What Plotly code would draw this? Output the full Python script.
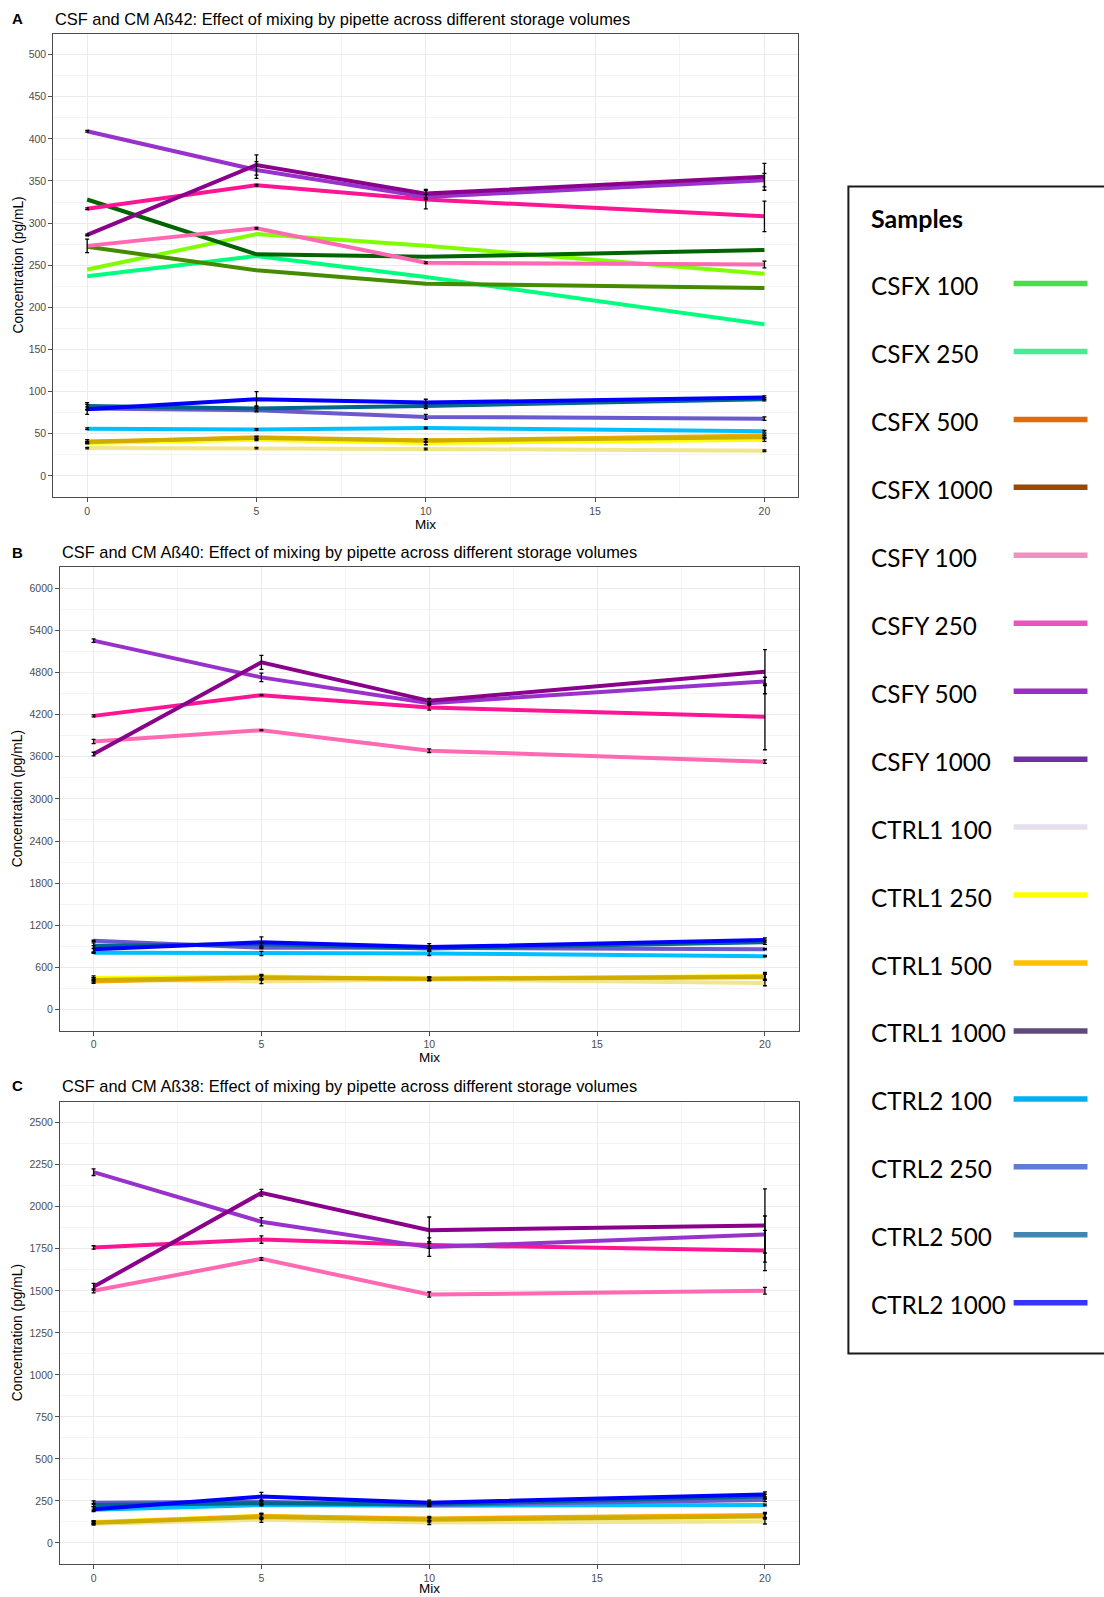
import plotly.graph_objects as go

# ---------------------------------------------------------------- data
MIX = [0, 5, 10, 20]

SAMPLES = [
    "CSFX 100", "CSFX 250", "CSFX 500", "CSFX 1000",
    "CSFY 100", "CSFY 250", "CSFY 500", "CSFY 1000",
    "CTRL1 100", "CTRL1 250", "CTRL1 500", "CTRL1 1000",
    "CTRL2 100", "CTRL2 250", "CTRL2 500", "CTRL2 1000",
]

# line colours used inside the panels
LINE_COLORS = [
    "#7FFF00", "#00FF7F", "#006400", "#458B00",
    "#FF69B4", "#FF1493", "#9932CC", "#8B008B",
    "#F0E68C", "#FFFF00", "#FFA500", "#CDAD00",
    "#00BFFF", "#6A5ACD", "#00688B", "#0000FF",
]

# swatch colours of the "Samples" key
KEY_COLORS = [
    "#47DF47", "#46EB96", "#E36C0A", "#984807",
    "#F28EC2", "#E955BE", "#9A30C2", "#7030A0",
    "#E6E0EC", "#FFFF00", "#FFC000", "#604A7B",
    "#00B0F0", "#5F7DD6", "#4186B2", "#3535FF",
]

# Aß42 (pg/mL): mean and SD per sample at mix 0, 5, 10, 20
AB42_MEAN = [
    [245, 287, 273, 240], [237, 261, 236, 180], [328, 263, 260, 268], [272, 244, 228, 223],
    [273, 294, 253, 251], [317, 345, 328, 308], [409, 363, 331, 351], [286, 369, 335, 355],
    [33, 33, 32, 30], [39, 43, 39, 43], [40, 46, 42, 48], [41, 45, 42, 46],
    [56, 55, 57, 53], [80, 78, 70, 68], [83, 80, 83, 91], [79, 91, 87, 93],
]
AB42_SD = [
    None, None, None, None,
    [8, 1, 1, 4], [1, 1, 11, 18], [1, 10, 3, 8], [1, 12, 5, 16],
    [1, 1, 1, 1], [1, 1, 2, 2], [1, 1, 2, 2], [2, 2, 2, 2],
    [1, 1, 1, 1], [2, 2, 3, 2], [4, 3, 3, 2], [6, 9, 4, 2],
]

# Aß40 (pg/mL)
AB40_MEAN = [
    None, None, None, None,
    [3817, 3978, 3685, 3529], [4181, 4476, 4299, 4167], [5252, 4729, 4362, 4671], [3638, 4943, 4395, 4810],
    [430, 400, 430, 380], [450, 470, 440, 480], [400, 450, 440, 470], [420, 460, 440, 460],
    [810, 800, 800, 760], [980, 880, 880, 860], [910, 930, 870, 960], [860, 960, 890, 990],
]
AB40_SD = [
    None, None, None, None,
    [30, 5, 25, 25], [15, 5, 35, 468], [25, 60, 20, 60], [25, 100, 35, 314],
    [25, 30, 20, 40], [30, 30, 20, 50], [25, 30, 25, 40], [30, 30, 25, 45],
    [10, 30, 30, 10], [10, 10, 20, 10], [40, 20, 40, 30], [50, 75, 50, 30],
]

# Aß38 (pg/mL)
AB38_MEAN = [
    None, None, None, None,
    [1500, 1690, 1478, 1500], [1758, 1805, 1772, 1740], [2206, 1911, 1760, 1835], [1524, 2083, 1861, 1889],
    [115, 138, 122, 128], [125, 161, 138, 162], [122, 161, 146, 167], [120, 154, 138, 158],
    [197, 226, 222, 226], [240, 246, 226, 256], [226, 236, 230, 276], [201, 276, 240, 289],
]
AB38_SD = [
    None, None, None, None,
    [12, 8, 15, 20], [10, 22, 20, 120], [20, 25, 55, 110], [20, 20, 78, 218],
    [8, 15, 12, 15], [8, 15, 12, 15], [8, 15, 12, 15], [8, 15, 12, 15],
    [5, 5, 5, 5], [10, 10, 8, 10], [10, 10, 10, 15], [15, 25, 15, 15],
]

PANELS = [
    # letter, title, means, sds, y range, y tick step,
    # pixel box (left, right, top, bottom), title y, "Mix" y
    ("A", "CSF and CM Aß42: Effect of mixing by pipette across different storage volumes",
     AB42_MEAN, AB42_SD, [-25, 525], 50, (53.3, 798.3, 33.5, 497.0), 18.7, 524.0),
    ("B", "CSF and CM Aß40: Effect of mixing by pipette across different storage volumes",
     AB40_MEAN, AB40_SD, [-300, 6300], 600, (60.0, 798.5, 567.0, 1030.7), 552.0, 1057.0),
    ("C", "CSF and CM Aß38: Effect of mixing by pipette across different storage volumes",
     AB38_MEAN, AB38_SD, [-125, 2625], 250, (60.0, 798.5, 1101.7, 1564.0), 1085.6, 1588.5),
]

# ---------------------------------------------------------------- layout helpers
W, H = 1104, 1597
FONT = "Liberation Sans, Arial, sans-serif"
KEY_FONT = "Lato, Open Sans, sans-serif"


def px_x(v):
    return v / W


def px_y(v):
    return 1 - v / H


fig = go.Figure()
annotations = []
shapes = []

for p, (letter, title, means, sds, yrange, ystep, box, title_y, mix_y) in enumerate(PANELS):
    left, right, top, bottom = box
    ax = "" if p == 0 else str(p + 1)
    xname, yname = "x" + ax, "y" + ax

    # lines
    for i, name in enumerate(SAMPLES):
        if means[i] is None:
            continue
        fig.add_trace(go.Scatter(
            x=MIX, y=means[i], mode="lines", name=name,
            line=dict(color=LINE_COLORS[i], width=4),
            xaxis=xname, yaxis=yname, showlegend=False, hoverinfo="skip",
        ))
    # error bars on top of all lines
    for i, name in enumerate(SAMPLES):
        if means[i] is None or sds[i] is None:
            continue
        fig.add_trace(go.Scatter(
            x=MIX, y=means[i], mode="markers", name=name,
            marker=dict(size=1, color="rgba(0,0,0,0)"),
            error_y=dict(type="data", array=sds[i], visible=True,
                         color="#000000", thickness=1.3, width=2),
            xaxis=xname, yaxis=yname, showlegend=False, hoverinfo="skip",
        ))

    common = dict(
        showline=True, linecolor="#4D4D4D", linewidth=1, mirror=True,
        showgrid=True, gridcolor="#EBEBEB", gridwidth=1.1, zeroline=False,
        ticks="outside", ticklen=4, tickcolor="#4D4D4D", tickwidth=1,
        tickfont=dict(family=FONT, size=10.5, color="#4D4D4D"),
        automargin=False,
    )
    fig.update_layout(**{
        "xaxis" + ax: dict(
            domain=[px_x(left), px_x(right)], range=[-1, 21],
            tickmode="array", tickvals=[0, 5, 10, 15, 20],
            minor=dict(showgrid=True, gridcolor="#F4F4F4", gridwidth=0.6,
                       tickmode="array", tickvals=[2.5, 7.5, 12.5, 17.5]),
            anchor=yname, **common),
        "yaxis" + ax: dict(
            domain=[px_y(bottom), px_y(top)], range=yrange,
            tick0=0, dtick=ystep,
            minor=dict(showgrid=True, gridcolor="#F4F4F4", gridwidth=0.6,
                       tick0=ystep / 2, dtick=ystep),
            anchor=xname, **common),
    })

    # panel letter and title
    annotations.append(dict(
        text="<b>%s</b>" % letter, xref="paper", yref="paper",
        x=px_x(17.3), y=px_y(title_y), xanchor="center", yanchor="middle",
        showarrow=False, font=dict(family=FONT, size=15, color="#000000")))
    annotations.append(dict(
        text=title, xref="paper", yref="paper",
        x=px_x(left), y=px_y(title_y), xanchor="left", yanchor="middle",
        showarrow=False, font=dict(family=FONT, size=16.4, color="#000000")))
    # axis titles
    annotations.append(dict(
        text="Mix", xref="paper", yref="paper",
        x=px_x((left + right) / 2), y=px_y(mix_y), xanchor="center", yanchor="middle",
        showarrow=False, font=dict(family=FONT, size=13.5, color="#000000")))
    annotations.append(dict(
        text="Concentration (pg/mL)", xref="paper", yref="paper", textangle=-90,
        x=px_x(18.3), y=px_y((top + bottom) / 2), xanchor="center", yanchor="middle",
        showarrow=False, font=dict(family=FONT, size=13.8, color="#000000")))

# ---------------------------------------------------------------- "Samples" key
KEY_BOX = (848.4, 1112.0, 186.4, 1353.5)
KEY_FIRST, KEY_STEP = 283.5, 67.95
KEY_SWATCH = (1013.4, 1087.7)
n = len(SAMPLES)

shapes.append(dict(
    type="rect", xref="paper", yref="paper",
    x0=px_x(KEY_BOX[0]), x1=px_x(KEY_BOX[1]),
    y0=px_y(KEY_BOX[3]), y1=px_y(KEY_BOX[2]),
    line=dict(color="#1A1A1A", width=2), fillcolor="rgba(0,0,0,0)", layer="above"))

key_top = KEY_FIRST - KEY_STEP / 2
key_bottom = KEY_FIRST + KEY_STEP * (n - 0.5)
fig.update_layout(
    xaxis4=dict(domain=[px_x(KEY_SWATCH[0]), px_x(KEY_SWATCH[1])], range=[0, 1],
                visible=False, fixedrange=True, anchor="y4"),
    yaxis4=dict(domain=[px_y(key_bottom), px_y(key_top)], range=[n - 0.5, -0.5],
                visible=False, fixedrange=True, anchor="x4"),
)
for i, name in enumerate(SAMPLES):
    fig.add_trace(go.Scatter(
        x=[0, 1], y=[i, i], mode="lines", line=dict(color=KEY_COLORS[i], width=5.5),
        xaxis="x4", yaxis="y4", showlegend=False, hoverinfo="skip"))
    annotations.append(dict(
        text=name, xref="paper", yref="y4", x=px_x(868.7), y=i + 0.03,
        xanchor="left", yanchor="middle", showarrow=False,
        font=dict(family=KEY_FONT, size=24.3, color="#000000")))

annotations.append(dict(
    text="<b>Samples</b>", xref="paper", yref="paper", x=px_x(868.7), y=px_y(218.5),
    xanchor="left", yanchor="middle", showarrow=False,
    font=dict(family=KEY_FONT, size=25, color="#000000")))

fig.update_layout(
    width=W, height=H, margin=dict(l=0, r=0, t=0, b=0),
    paper_bgcolor="#FFFFFF", plot_bgcolor="#FFFFFF",
    showlegend=False, annotations=annotations, shapes=shapes,
)

fig.write_html("out.html")
